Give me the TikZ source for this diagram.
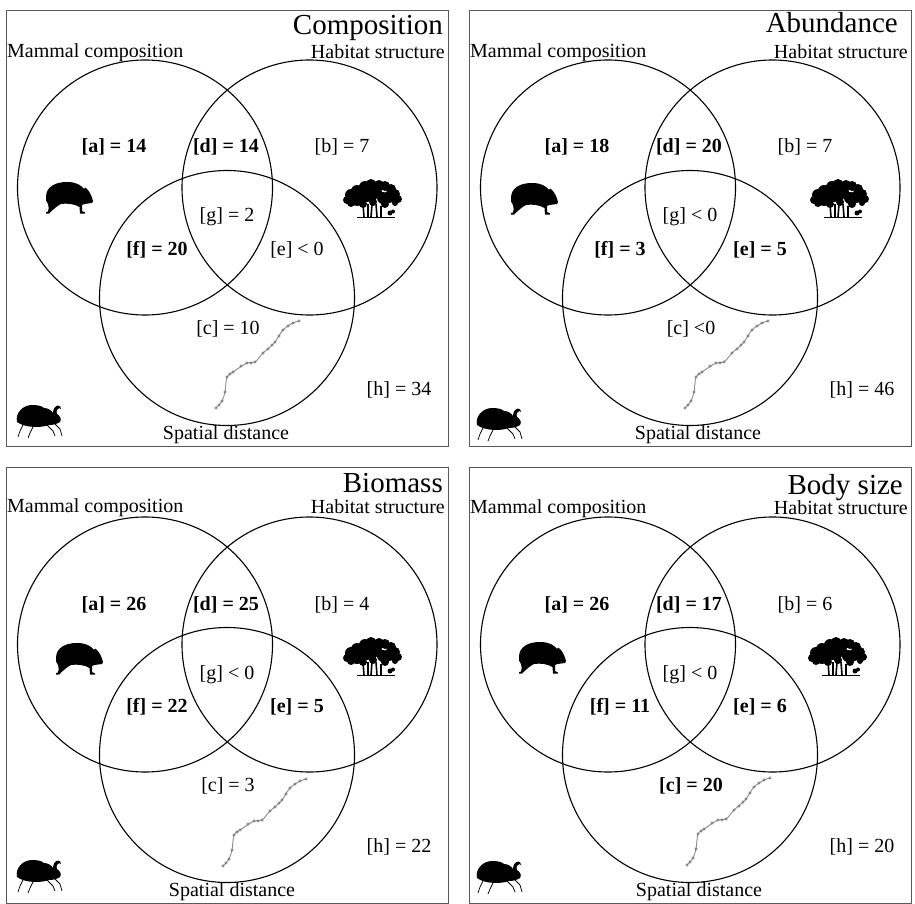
\documentclass[tikz,border=0pt]{standalone}
\usepackage{fontspec}
\setmainfont{Liberation Serif}
\begin{document}
\begin{tikzpicture}[x=1pt,y=-1pt,
  panelbox/.style={draw=black!65, line width=1.3pt, inner sep=0pt, minimum width=442pt, minimum height=436pt, anchor=north west},
  venn/.style={circle, draw=black, line width=1.1pt, minimum size=255pt, inner sep=0pt},
  paneltitle/.style={font=\fontsize{29}{32}\selectfont, inner sep=0pt},
  axislabel/.style={font=\fontsize{20}{22}\selectfont, inner sep=0pt},
  regionlabel/.style={font=\fontsize{20}{22}\selectfont, inner sep=0pt, anchor=base},
  trackline/.style={draw=black!45, line width=0.9pt},
  trackmark/.style={draw=black!55, line width=0.5pt},
  mammal/.pic={
    \fill (1,15) .. controls (1,5) and (10,0) .. (22,0)
      .. controls (31,0) and (36,3) .. (39,7)
      -- (40,5.5) -- (42,7)
      .. controls (45,10) and (47,15) .. (48,19)
      -- (47,21) -- (43,21.5)
      .. controls (40,22) and (38,22) .. (37,23)
      -- (37,29) -- (40,30.5) -- (40,31.5) -- (35,31.5) -- (34.5,25)
      .. controls (30,22) and (22,21) .. (16,22)
      .. controls (12,24) and (9,27) .. (6,29.5) -- (4,31.5) -- (1,31.5) -- (1,30) -- (3,29.5)
      .. controls (4,27) and (4,25) .. (3,22)
      .. controls (1,20) and (1,18) .. (1,15) -- cycle;
  },
  tree/.pic={
    \fill (4,20) circle[radius=4pt] (8,15) circle[radius=6pt] (8,23) circle[radius=4pt]
          (14,11) circle[radius=6pt] (14,20) circle[radius=6pt]
          (22,7) circle[radius=6pt] (28,4) circle[radius=5pt] (24,15) circle[radius=7pt]
          (32,12) circle[radius=7pt] (36,5) circle[radius=5pt]
          (42,6) circle[radius=5pt] (48,9) circle[radius=5pt] (52,14) circle[radius=5pt]
          (55,19) circle[radius=4pt] (46,17) circle[radius=6pt] (40,18) circle[radius=6pt]
          (20,24) circle[radius=4pt] (30,22) circle[radius=4pt] (42,24) circle[radius=4pt]
          (52,23) circle[radius=3pt];
    \draw[line width=1.6pt] (20,24) -- (21,37) (25,24) -- (25,37) (29,24) -- (28,37)
          (33,24) -- (34,37) (38,26) -- (38,37);
    \fill (47,33) circle[radius=2.5pt] (50,31.5) circle[radius=2pt];
    \draw[line width=0.8pt] (14,37.5) -- (52,37.5);
  },
  beetle/.pic={
    \fill (2,17) .. controls (0,8) and (8,0) .. (17,0)
      .. controls (23,0) and (27,1) .. (29,3)
      .. controls (33,3) and (36,5) .. (38,8)
      .. controls (38,4) and (40,1) .. (43,0.5)
      .. controls (45,0.5) and (46,2) .. (46,4)
      -- (44.5,3) .. controls (42,3) and (41,6) .. (42,9)
      .. controls (45,11) and (47,14) .. (45,17)
      .. controls (42,19) and (38,20) .. (34,20)
      .. controls (26,23) and (10,23) .. (2,17) -- cycle;
    \draw[line width=0.75pt] (8,20) -- (5,26) -- (3,32) (18,22) -- (15,28) -- (13,33)
      (32,20) -- (38,26) -- (40,31) (39,18) -- (45,24) -- (47,31);
  },
  track/.pic={
    \draw[trackline] plot[smooth] coordinates {(0,0) (6,-7) (9,-16) (11,-31) (17,-36) (31,-45)
      (39,-46) (47,-55) (54,-61) (59,-66) (67,-78) (77,-85) (83,-87)};
    \foreach \p in {(0,0),(3,-3),(6,-7),(9,-16),(11,-31),(14,-34),(17,-36),(25,-42),(31,-45),
      (35,-45),(39,-46),(47,-55),(52,-59),(56,-63),(59,-66),(63,-72),(67,-78),(72,-82),(77,-85),(83,-87)}
      \draw[trackmark] \p circle[radius=1.3pt];
  }
]
\useasboundingbox (0,0) rectangle (915,904);

% one panel: frame, three sets, their names and the panel title
% #1 prefix, #2 title, #3 title right edge, #4 title baseline, #5 set-name baseline, #6 x of "Spatial distance"
\newcommand\vennpanel[6]{%
  \node[panelbox] (#1-box) at (0,0) {};
  \node[venn] (#1-A) at (139,177.5) {};
  \node[venn] (#1-B) at (303.5,177.5) {};
  \node[venn] (#1-C) at (221,288) {};
  \node[paneltitle, anchor=base east] (#1-title) at (#3,#4) {#2};
  \node[axislabel, anchor=base west] (#1-mam) at (1,#5) {Mammal composition};
  \node[axislabel, anchor=base east] (#1-hab) at (439,#5+1) {Habitat structure};
  \node[axislabel, anchor=base] (#1-spa) at (#6,429) {Spatial distance};
}
% fractions of the partition: [a] [d] [b] [g] [f] [e] [c] [h]
\newcommand\vennfractions[9]{%
  \node[regionlabel] (#1-a) at (108,143) {#2};
  \node[regionlabel] (#1-d) at (220,143) {#3};
  \node[regionlabel] (#1-b) at (336,143) {#4};
  \node[regionlabel] (#1-g) at (221,212) {#5};
  \node[regionlabel] (#1-f) at (151,245) {#6};
  \node[regionlabel] (#1-e) at (291,245) {#7};
  \node[regionlabel] (#1-c) at (222,324) {#8};
  \node[regionlabel] (#1-h) at (393,385) {#9};
}

% Composition
\begin{scope}[shift={(6,10)}]
  \vennpanel{comp}{Composition}{437}{25}{48}{220}
  \vennfractions{comp}{\textbf{[a] = 14}}{\textbf{[d] = 14}}{[b] = 7}{[g] = 2}{\textbf{[f] = 20}}{[e] < 0}{[c] = 10}{[h] = 34}
  \pic at (39,172) {mammal};
  \pic at (337,170) {tree};
  \pic at (9,395) {beetle};
  \pic at (210,398) {track};
\end{scope}

% Abundance
\begin{scope}[shift={(469,10)}]
  \vennpanel{abun}{Abundance}{429}{23}{48}{229}
  \vennfractions{abun}{\textbf{[a] = 18}}{\textbf{[d] = 20}}{[b] = 7}{[g] < 0}{\textbf{[f] = 3}}{\textbf{[e] = 5}}{[c] <0}{[h] = 46}
  \pic at (41,173) {mammal};
  \pic at (341,170) {tree};
  \pic at (6,398) {beetle};
  \pic at (216,398) {track};
\end{scope}

% Biomass
\begin{scope}[shift={(6,467)}]
  \vennpanel{biom}{Biomass}{437}{25}{45}{226}
  \vennfractions{biom}{\textbf{[a] = 26}}{\textbf{[d] = 25}}{[b] = 4}{[g] < 0}{\textbf{[f] = 22}}{\textbf{[e] = 5}}{[c] = 3}{[h] = 22}
  \pic at (49,176) {mammal};
  \pic at (337,171) {tree};
  \pic at (9,393) {beetle};
  \pic at (217,399) {track};
\end{scope}

% Body size
\begin{scope}[shift={(469,467)}]
  \vennpanel{body}{Body size}{434}{27}{46}{230}
  \vennfractions{body}{\textbf{[a] = 26}}{\textbf{[d] = 17}}{[b] = 6}{[g] < 0}{\textbf{[f] = 11}}{\textbf{[e] = 6}}{\textbf{[c] = 20}}{[h] = 20}
  \pic at (49,175) {mammal};
  \pic at (339,171) {tree};
  \pic at (6,394) {beetle};
  \pic at (218,398) {track};
\end{scope}
\end{tikzpicture}
\end{document}
